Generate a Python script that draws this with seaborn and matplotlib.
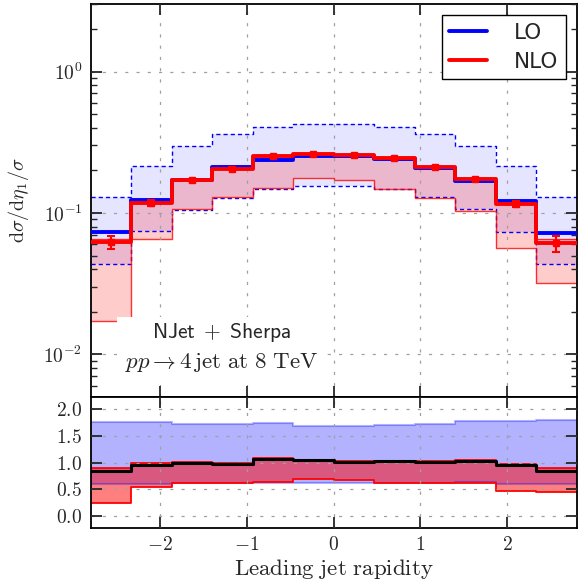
import numpy as np
import matplotlib
matplotlib.use("Agg")
import matplotlib.pyplot as plt
from matplotlib.ticker import FuncFormatter, FixedLocator, LogLocator, NullFormatter
from matplotlib.patches import Rectangle
import seaborn as sns
import pandas as pd

# ---------------- data ----------------
bin_edges = [-2.8, -2.3333, -1.8667, -1.4, -0.9333, -0.4667, 0.0,
             0.4667, 0.9333, 1.4, 1.8667, 2.3333, 2.8]
lo_central = [0.0732, 0.1231, 0.172, 0.210, 0.235, 0.252, 0.253, 0.240, 0.208, 0.168, 0.122, 0.0727]
lo_upper = [0.129, 0.216, 0.297, 0.361, 0.407, 0.425, 0.425, 0.407, 0.359, 0.297, 0.216, 0.1305]
lo_lower = [0.0433, 0.0744, 0.1046, 0.1278, 0.1472, 0.1553, 0.1553, 0.1472, 0.1299, 0.1069, 0.0739, 0.0435]
nlo_central = [0.062, 0.118, 0.171, 0.206, 0.252, 0.263, 0.256, 0.246, 0.211, 0.174, 0.116, 0.061]
nlo_upper = [0.0651, 0.121, 0.173, 0.208, 0.254, 0.265, 0.258, 0.248, 0.213, 0.176, 0.118, 0.0659]
nlo_lower = [0.01714, 0.0657, 0.106, 0.130, 0.150, 0.176, 0.170, 0.148, 0.128, 0.104, 0.0565, 0.032]
nlo_err = [0.0065, 0.0055, 0.004, 0.004, 0.004, 0.004, 0.004, 0.004, 0.004, 0.004, 0.006, 0.008]

x_ticks = [-2, -1, 0, 1, 2]
ratio_ticks = [0.0, 0.5, 1.0, 1.5, 2.0]
labels = ["LO", "NLO"]

# ---------------- style ----------------
sns.set_style("ticks")
plt.rcParams["mathtext.fontset"] = "cm"
plt.rcParams["font.family"] = ["DejaVu Serif"]
plt.rcParams["axes.linewidth"] = 1.3

edges = np.array(bin_edges)
centers = 0.5 * (edges[:-1] + edges[1:])


def ext(v):
    v = np.asarray(v, dtype=float)
    return np.append(v, v[-1])


fig = plt.figure(figsize=(5.78, 5.83), dpi=100)
ax1 = fig.add_axes([0.1569, 0.319, 0.8408, 0.6741])
ax2 = fig.add_axes([0.1569, 0.0943, 0.8408, 0.2247])

grid_kw = dict(color="#a0a0a0", linestyle=(0, (2.5, 6.5)), linewidth=0.9)

# ---------------- top panel ----------------
ax1.fill_between(edges, ext(lo_lower), ext(lo_upper), step="post",
                 facecolor="blue", alpha=0.1, linewidth=0, zorder=1)
ax1.fill_between(edges, ext(nlo_lower), ext(nlo_upper), step="post",
                 facecolor="red", alpha=0.2, linewidth=0, zorder=1)

df = pd.DataFrame({"x": edges,
                   "lo": ext(lo_central), "lo_up": ext(lo_upper), "lo_dn": ext(lo_lower),
                   "nlo": ext(nlo_central), "nlo_up": ext(nlo_upper), "nlo_dn": ext(nlo_lower)})

for col in ["lo_up", "lo_dn"]:
    sns.lineplot(data=df, x="x", y=col, ax=ax1, estimator=None, drawstyle="steps-post",
                 color="blue", linewidth=1.0, linestyle=(0, (3.0, 2.2)), zorder=2)
for col in ["nlo_up", "nlo_dn"]:
    sns.lineplot(data=df, x="x", y=col, ax=ax1, estimator=None, drawstyle="steps-post",
                 color="red", linewidth=1.0, alpha=0.8, zorder=2)

sns.lineplot(data=df, x="x", y="lo", ax=ax1, estimator=None, drawstyle="steps-post",
             color="blue", linewidth=2.8, zorder=3, label=labels[0])
sns.lineplot(data=df, x="x", y="nlo", ax=ax1, estimator=None, drawstyle="steps-post",
             color="red", linewidth=2.8, zorder=3.1, label=labels[1])
ax1.errorbar(centers, nlo_central, yerr=nlo_err, fmt="s", color="red", ms=4.5,
             capsize=3, elinewidth=1.5, capthick=1.5, zorder=3.2)

ax1.set_yscale("log")
ax1.set_xlim(-2.8, 2.8)
ax1.set_ylim(0.005, 3.0)
ax1.set_xlabel("")
ax1.set_ylabel(r"$\mathrm{d}\sigma/\mathrm{d}\eta_1/\sigma$", fontsize=14.5, labelpad=9)
ax1.yaxis.set_major_locator(LogLocator(base=10, numticks=10))
ax1.yaxis.set_minor_locator(LogLocator(base=10, subs=np.arange(2, 10), numticks=20))
ax1.yaxis.set_minor_formatter(NullFormatter())
ax1.yaxis.set_major_formatter(FuncFormatter(lambda v, p: r"$10^{%d}$" % round(np.log10(v))))
ax1.xaxis.set_major_locator(FixedLocator(x_ticks))
ax1.set_xticklabels([])
ax1.grid(True, which="major", **grid_kw)
ax1.set_axisbelow(False)

leg = ax1.legend(loc="upper right", bbox_to_anchor=(0.978, 0.972), borderaxespad=0,
                 fancybox=False, framealpha=1, edgecolor="black", handlelength=1.75,
                 handletextpad=1.25, labelspacing=0.42, borderpad=0.35,
                 prop={"family": "DejaVu Sans", "size": 15.5})
leg.get_frame().set_linewidth(1.0)
leg.set_zorder(6)
for h in leg.get_lines():
    h.set_linewidth(2.8)

ax1.add_patch(Rectangle((0.054, 0.03), 0.432, 0.174, transform=ax1.transAxes,
                        facecolor="white", edgecolor="none", zorder=4))
ax1.text(0.27, 0.163, r"$\mathsf{NJet}\;+\;\mathsf{Sherpa}$", transform=ax1.transAxes,
         ha="center", va="center", fontsize=15.5, zorder=5)
ax1.text(0.27, 0.089, r"$pp \rightarrow 4\,\mathrm{jet\ at\ 8\ TeV}$", transform=ax1.transAxes,
         ha="center", va="center", fontsize=16.5, zorder=5)

# ---------------- ratio panel ----------------
lo_c = np.asarray(lo_central)
r_lo_up = np.asarray(lo_upper) / lo_c
r_lo_dn = np.asarray(lo_lower) / lo_c
r_nlo_up = np.asarray(nlo_upper) / lo_c
r_nlo_dn = np.asarray(nlo_lower) / lo_c
r_nlo = np.asarray(nlo_central) / lo_c

rdf = pd.DataFrame({"x": edges, "lo_up": ext(r_lo_up), "lo_dn": ext(r_lo_dn),
                    "nlo_up": ext(r_nlo_up), "nlo_dn": ext(r_nlo_dn), "nlo": ext(r_nlo)})

ax2.fill_between(edges, ext(r_lo_dn), ext(r_lo_up), step="post",
                 facecolor="blue", alpha=0.3, linewidth=0, zorder=1)
ax2.fill_between(edges, ext(r_nlo_dn), ext(r_nlo_up), step="post",
                 facecolor="red", alpha=0.5, linewidth=0, zorder=1)
for col in ["lo_up", "lo_dn"]:
    sns.lineplot(data=rdf, x="x", y=col, ax=ax2, estimator=None, drawstyle="steps-post",
                 color="blue", alpha=0.3, linewidth=1.5, zorder=2)
for col in ["nlo_up", "nlo_dn"]:
    sns.lineplot(data=rdf, x="x", y=col, ax=ax2, estimator=None, drawstyle="steps-post",
                 color="red", linewidth=1.3, zorder=2)
sns.lineplot(data=rdf, x="x", y="nlo", ax=ax2, estimator=None, drawstyle="steps-post",
             color="black", linewidth=2.2, zorder=3)

ax2.set_xlim(-2.8, 2.8)
ax2.set_ylim(-0.225, 2.225)
ax2.xaxis.set_major_locator(FixedLocator(x_ticks))
ax2.yaxis.set_major_locator(FixedLocator(ratio_ticks))
ax2.xaxis.set_major_formatter(FuncFormatter(lambda v, p: r"$%d$" % round(v)))
ax2.yaxis.set_major_formatter(FuncFormatter(lambda v, p: r"$%.1f$" % v))
ax2.set_ylabel("")
ax2.set_xlabel(r"$\mathrm{Leading\ jet\ rapidity}$", fontsize=16.5, labelpad=2)
ax2.grid(True, which="major", **grid_kw)
ax2.set_axisbelow(False)

for ax in (ax1, ax2):
    ax.tick_params(which="major", direction="in", length=8, width=1.3,
                   top=True, right=True, labelsize=14, pad=6)
    ax.tick_params(which="minor", direction="in", length=4.5, width=1.0,
                   top=False, right=True)
    for s in ax.spines.values():
        s.set_linewidth(1.3)
        s.set_color("black")
ax2.tick_params(axis="x", which="minor", bottom=False, top=False)
ax1.tick_params(axis="x", which="minor", bottom=False, top=False)

fig.savefig("out.png", dpi=100)
